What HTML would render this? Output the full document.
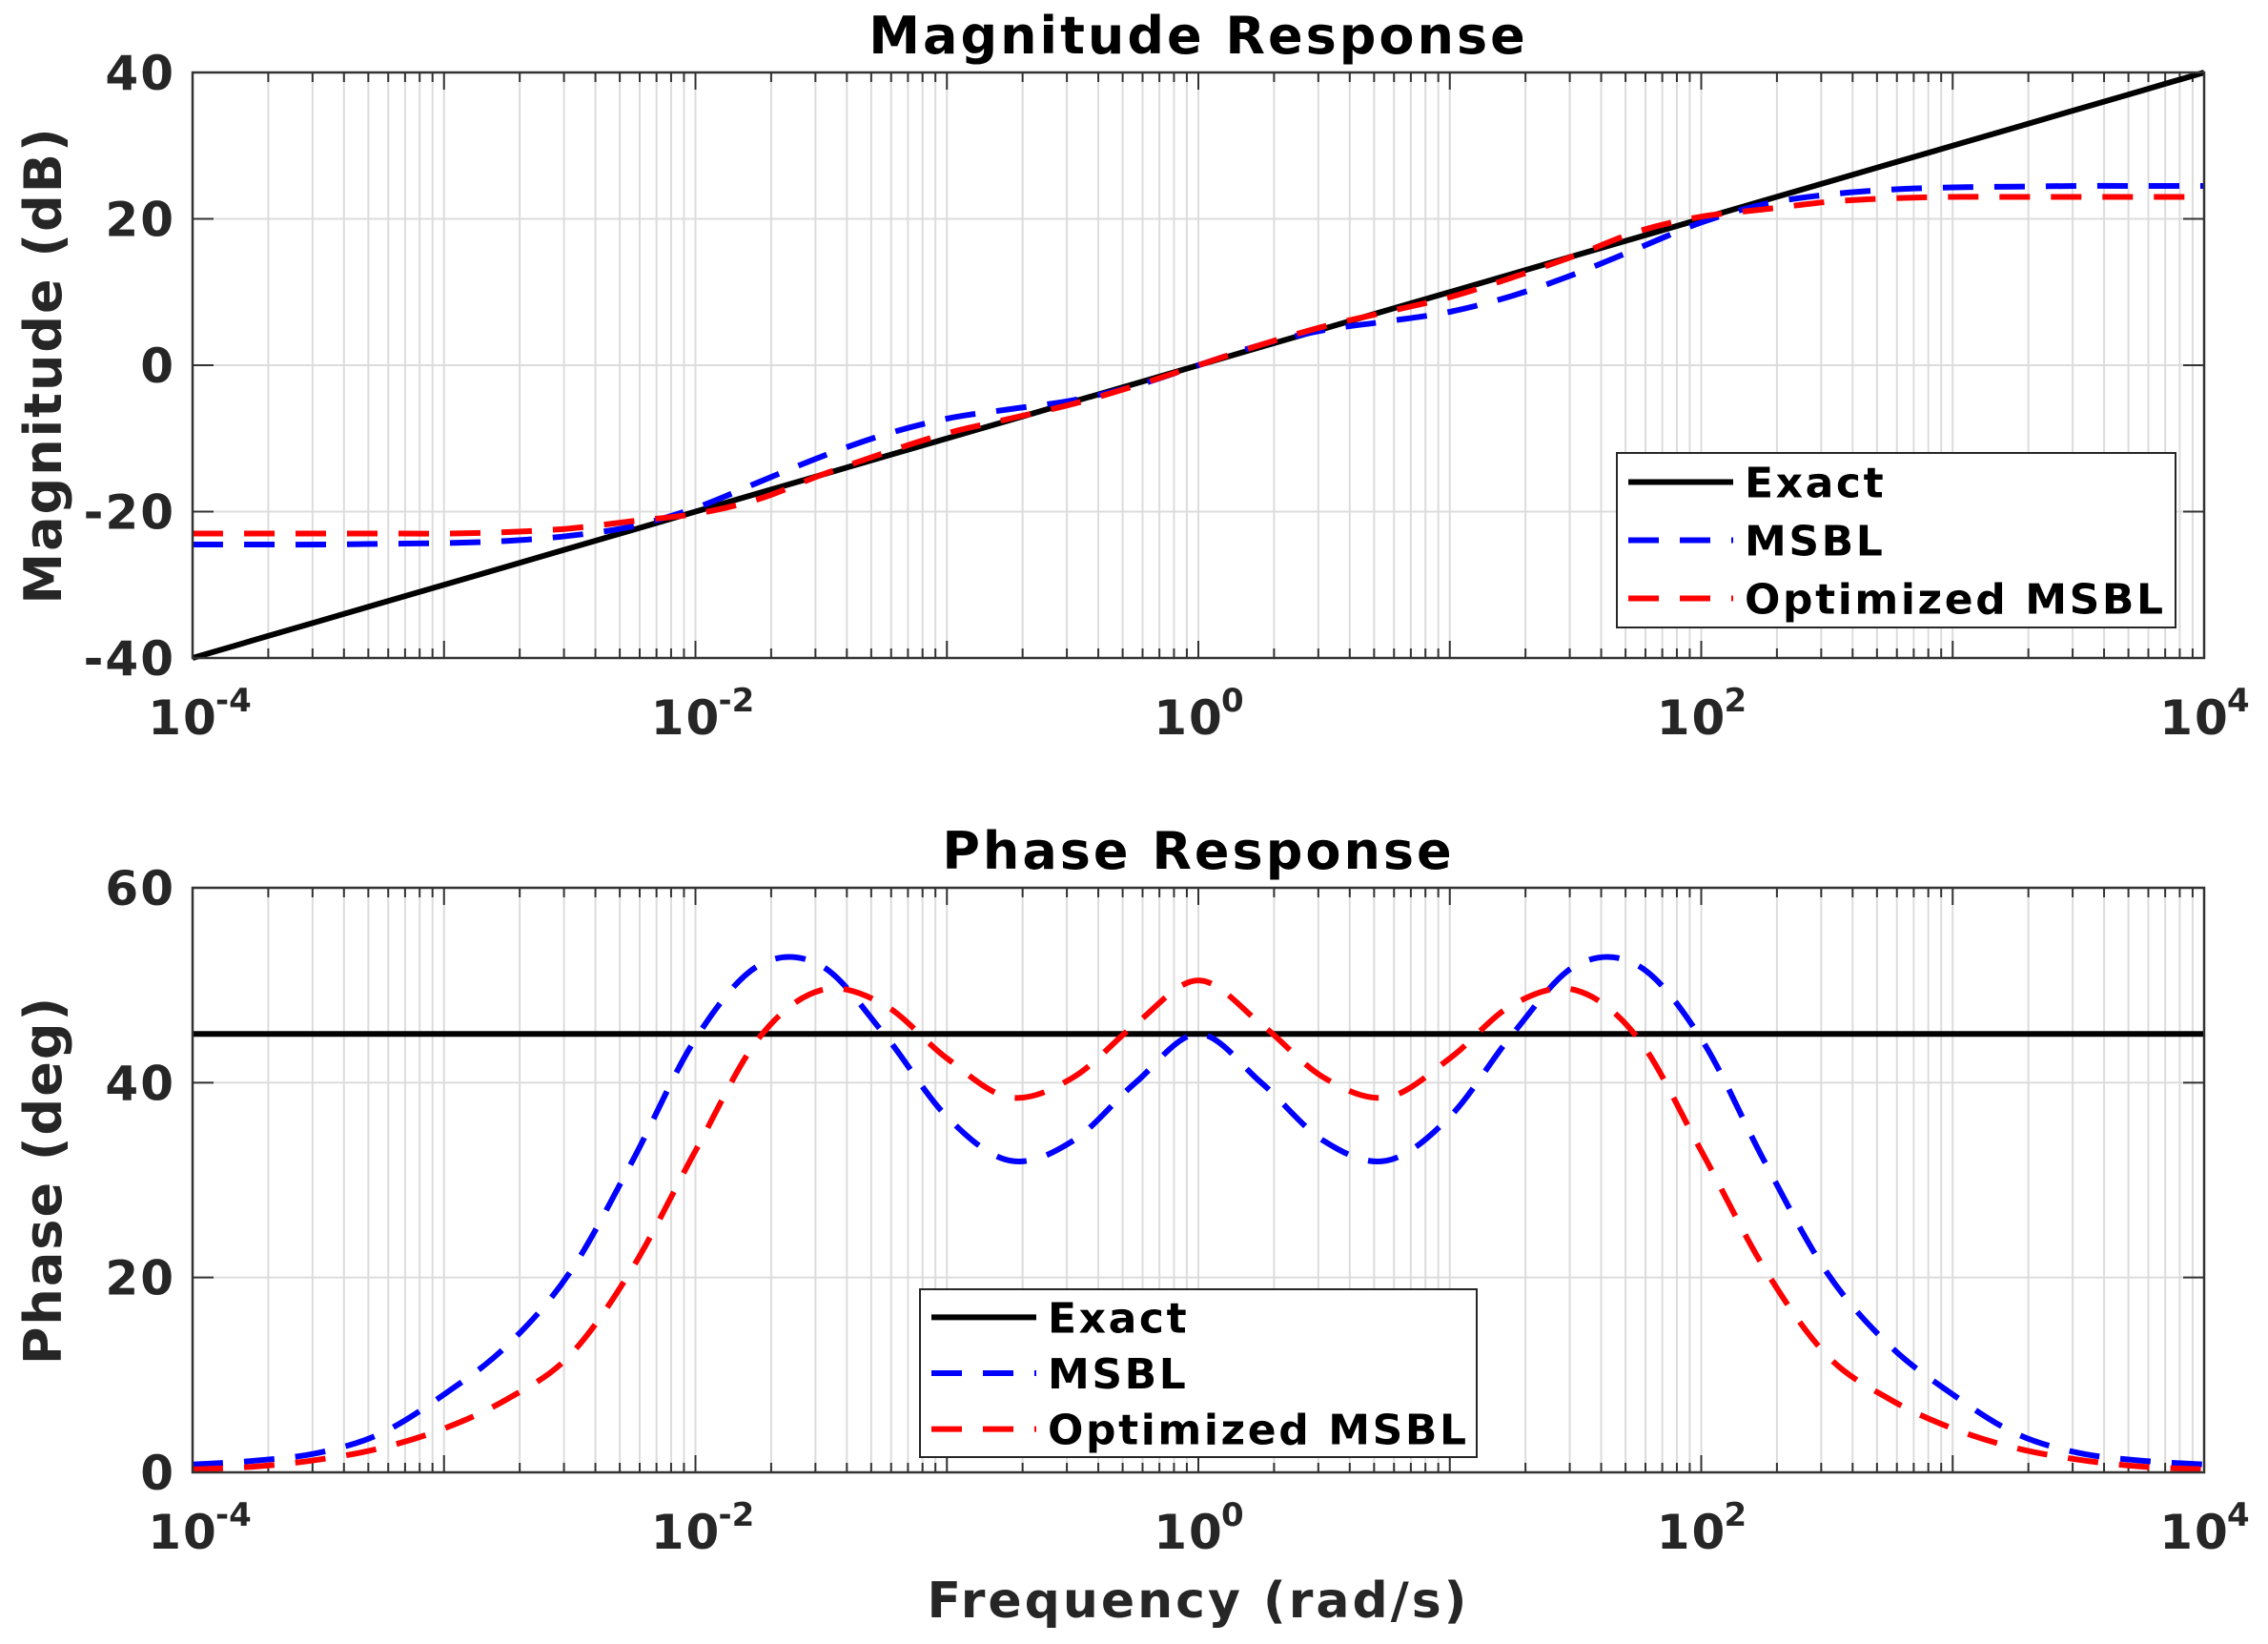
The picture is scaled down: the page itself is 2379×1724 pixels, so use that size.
<!DOCTYPE html>
<html><head><meta charset="utf-8"><style>
html,body{margin:0;padding:0;background:#fff;}
svg{display:block;font-family:"DejaVu Sans","Liberation Sans",sans-serif;font-weight:bold;}
</style></head><body>
<svg id="chart" width="2379" height="1724" viewBox="0 0 2379 1724" xmlns="http://www.w3.org/2000/svg"></svg>
<script>
// ---- data ----
const logFreq = [-4,-3.75,-3.5,-3.25,-3,-2.75,-2.5,-2.25,-2,-1.75,-1.5,-1.25,-1,-0.75,-0.5,-0.25,0,0.25,0.5,0.75,1,1.25,1.5,1.75,2,2.25,2.5,2.75,3,3.25,3.5,3.75,4];
const exactMag = [-40,-37.5,-35,-32.5,-30,-27.5,-25,-22.5,-20,-17.5,-15,-12.5,-10,-7.5,-5,-2.5,0,2.5,5,7.5,10,12.5,15,17.5,20,22.5,25,27.5,30,32.5,35,37.5,40];
const msblMag = [-24.5,-24.5,-24.5,-24.4,-24.3,-24,-23.3,-22,-19.5,-16,-12.5,-9.5,-7.3,-6,-4.8,-2.8,0,2.8,4.8,6,7.3,9.5,12.5,16,19.5,22,23.3,24,24.3,24.4,24.5,24.5,24.5];
const optMag = [-23,-23,-23,-23,-23,-22.8,-22.3,-21.3,-20.3,-18.3,-15,-12,-9.3,-7.3,-5.3,-2.8,0,2.8,5.3,7.3,9.3,12,15,18.3,20.3,21.3,22.3,22.8,23,23,23,23,23];
const exactPhase = [45,45,45,45,45,45,45,45,45,45,45,45,45,45,45,45,45,45,45,45,45,45,45,45,45,45,45,45,45,45,45,45,45];
const msblPhase = [0.8,1.2,2,4,8,13,20.5,32,44.5,52,52,45,36.5,32,34,40,45,40,34,32,36.5,45,52,52,44.5,32,20.5,13,8,4,2,1.2,0.8];
const optPhase = [0.3,0.6,1.3,2.5,4.5,7.5,12,21,33,44.5,49.5,48,42.5,38.5,40.5,46,50.5,46,40.5,38.5,42.5,48,49.5,44.5,33,21,12,7.5,4.5,2.5,1.3,0.6,0.3];
const xTickExp = [-4,-2,0,2,4];
const magTicks = [-40,-20,0,20,40];
const phaseTicks = [0,20,40,60];

const svg = document.getElementById('chart');
const NS = 'http://www.w3.org/2000/svg';
function mk(tag, attrs, parent){
  const e = document.createElementNS(NS, tag);
  for (const k in attrs) e.setAttribute(k, attrs[k]);
  (parent||svg).appendChild(e);
  return e;
}
const L = 202, R = 2312;
const panels = [
  {name:'magnitude', top:76, bot:690, ymin:-40, ymax:40, ticks:magTicks, title:'Magnitude Response', ylabel:'Magnitude (dB)',
   series:[exactMag, msblMag, optMag], legend:{x:1696,y:475,w:586,h:183}},
  {name:'phase', top:931, bot:1544, ymin:0, ymax:60, ticks:phaseTicks, title:'Phase Response', ylabel:'Phase (deg)',
   series:[exactPhase, msblPhase, optPhase], legend:{x:965,y:1352,w:584,h:176}}
];
const xs = lw => L + (lw + 4) / 8 * (R - L);
const colors = ['#000','#0000ff','#ff0000'];
const names = ['Exact','MSBL','Optimized MSBL'];
const snames = ['exact','msbl','optimized-msbl'];

function smoothPath(pts){
  let d = 'M' + pts[0][0].toFixed(1) + ' ' + pts[0][1].toFixed(1);
  for (let i=0;i<pts.length-1;i++){
    const p0 = pts[Math.max(i-1,0)], p1 = pts[i], p2 = pts[i+1], p3 = pts[Math.min(i+2,pts.length-1)];
    const c1 = [p1[0]+(p2[0]-p0[0])/6, p1[1]+(p2[1]-p0[1])/6];
    const c2 = [p2[0]-(p3[0]-p1[0])/6, p2[1]-(p3[1]-p1[1])/6];
    d += ' C'+c1[0].toFixed(1)+' '+c1[1].toFixed(1)+' '+c2[0].toFixed(1)+' '+c2[1].toFixed(1)+' '+p2[0].toFixed(1)+' '+p2[1].toFixed(1);
  }
  return d;
}

panels.forEach(p => {
  const ys = v => p.bot - (v - p.ymin)/(p.ymax - p.ymin)*(p.bot - p.top);
  const g = mk('g', {});
  
  
  for (let d=-4; d<4; d++){
    for (let m=1; m<10; m++){
      const lw = d + Math.log10(m);
      const x = xs(lw);
      const gl = mk('line', {x1:x, x2:x, y1:p.top, y2:p.bot, stroke:'#dcdcdc', 'stroke-width':2}, g);
      
      
      const tl = m===1 ? 18 : 10;
      mk('line', {x1:x, x2:x, y1:p.bot, y2:p.bot-tl, stroke:'#333', 'stroke-width':2}, g);
      mk('line', {x1:x, x2:x, y1:p.top, y2:p.top+tl, stroke:'#333', 'stroke-width':2}, g);
    }
  }
  p.ticks.forEach(t => {
    const y = ys(t);
    const gl = mk('line', {x1:L, x2:R, y1:y, y2:y, stroke:'#dcdcdc', 'stroke-width':2}, g);
    
    
    mk('line', {x1:L, x2:L+22, y1:y, y2:y, stroke:'#333', 'stroke-width':2}, g);
    mk('line', {x1:R, x2:R-22, y1:y, y2:y, stroke:'#333', 'stroke-width':2}, g);
    const tx = mk('text', {x:L-18, y:y+18, 'text-anchor':'end', 'font-size':50, 'letter-spacing':2, fill:'#262626'}, g);
    tx.textContent = t;
    
    
  });
  xTickExp.forEach(e => {
    const x = xs(e);
    const tx = mk('text', {x:x-10, y:p.bot+80, 'text-anchor':'middle', 'font-size':50, 'letter-spacing':2, fill:'#262626'}, g);
    tx.textContent = '10';
    
    
    const sup = mk('text', {x:x+24, y:p.bot+56, 'text-anchor':'start', 'font-size':34, fill:'#262626'}, g);
    sup.textContent = String(e);
    
    
  });
  p.series.forEach((vals, si) => {
    const pts = logFreq.map((lw,i) => [xs(lw), ys(vals[i])]);
    const attrs = {d:smoothPath(pts), fill:'none', stroke:colors[si], 'stroke-width':6};
    if (si>0){ attrs['stroke-dasharray'] = '32 22'; }
    const path = mk('path', attrs, g);
    
    
  });
  const fr = mk('rect', {x:L, y:p.top, width:R-L, height:p.bot-p.top, fill:'none', stroke:'#333', 'stroke-width':2.5}, g);
  
  
  const ti = mk('text', {x:(L+R)/2, y:p.top-20, 'text-anchor':'middle', 'font-size':54, 'letter-spacing':3, fill:'#000'}, g);
  ti.textContent = p.title;
  
  
  const cy = (p.top+p.bot)/2;
  const yl = mk('text', {x:0, y:0, 'text-anchor':'middle', 'font-size':54, 'letter-spacing':2, fill:'#262626', transform:'translate(64,'+cy+') rotate(-90)'}, g);
  yl.textContent = p.ylabel;
  
  
  const lg = p.legend;
  const lgG = mk('g', {}, g);
  
  
  mk('rect', {x:lg.x, y:lg.y, width:lg.w, height:lg.h, fill:'#fff', stroke:'#262626', 'stroke-width':2}, lgG);
  const rowH = lg.h/3;
  names.forEach((n, i) => {
    const y = lg.y + rowH*(i+0.5);
    const ln = mk('line', {x1:lg.x+12, x2:lg.x+122, y1:y, y2:y, stroke:colors[i], 'stroke-width':6}, lgG);
    if (i>0) ln.setAttribute('stroke-dasharray', '32 22');
    
    
    const t = mk('text', {x:lg.x+134, y:y+16, 'font-size':44, 'letter-spacing':2.6, fill:'#000'}, lgG);
    t.textContent = n;
    
    
  });
});
const xl = mk('text', {x:(L+R)/2, y:1696, 'text-anchor':'middle', 'font-size':52, 'letter-spacing':3, fill:'#262626'});
xl.textContent = 'Frequency (rad/s)';


</script>
</body></html>
